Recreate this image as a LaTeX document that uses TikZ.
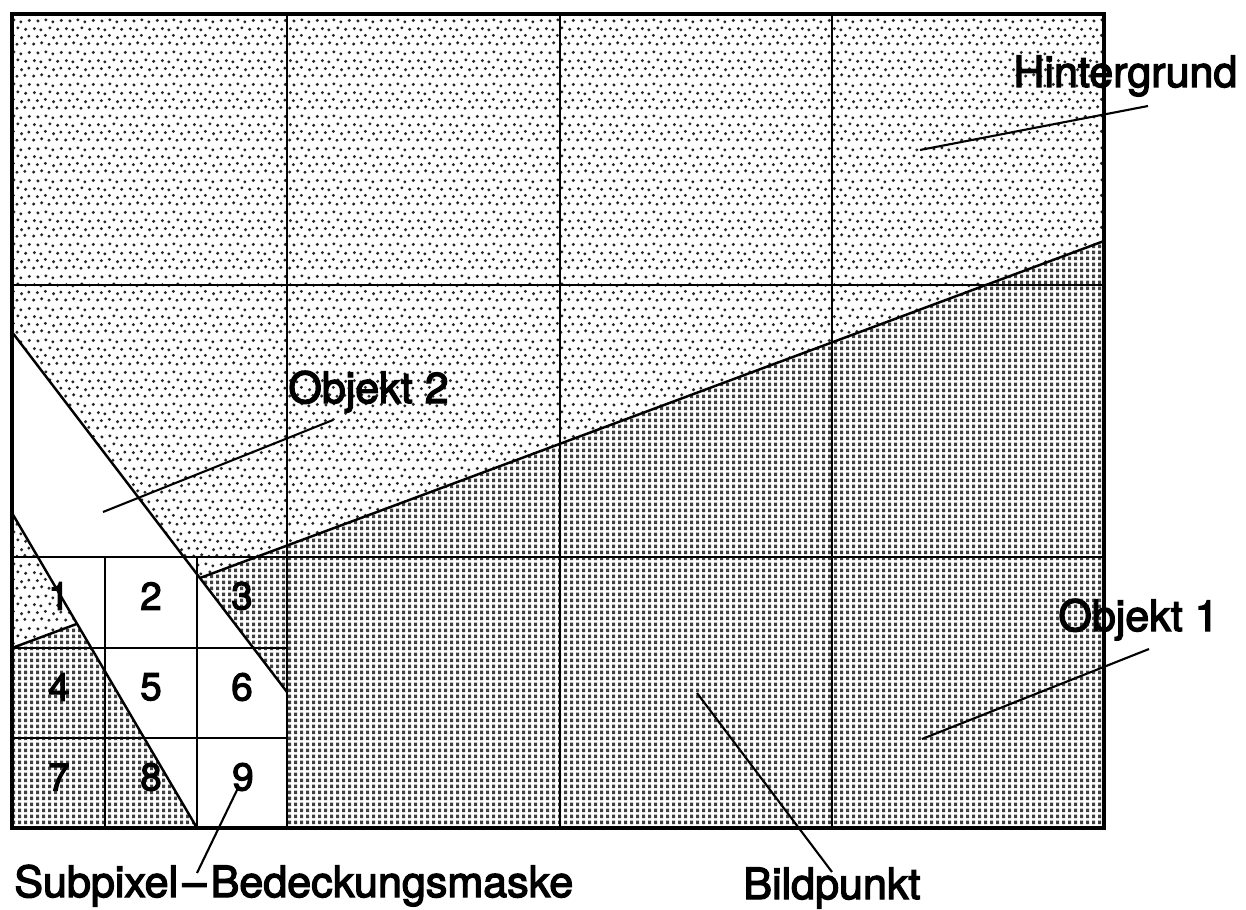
\documentclass[tikz,border=0pt]{standalone}
\usepackage{fontspec}
\setmainfont{TeX Gyre Heros}
\newfontfamily\labfont[FakeBold=3]{TeX Gyre Heros}
\usetikzlibrary{patterns}

% background: irregular sparse dots
\pgfdeclarepatternformonly{bgdots}{\pgfqpoint{0pt}{0pt}}{\pgfqpoint{18pt}{18pt}}{\pgfqpoint{18pt}{18pt}}{%
  \foreach \px/\py in {1.0/1.1, 5.6/1.8, 9.8/1.0, 14.3/1.5,
                       3.1/5.4, 7.7/6.1, 12.4/4.8, 16.6/5.7,
                       1.4/10.0, 5.1/9.3, 10.3/10.4, 14.8/9.6,
                       3.4/14.4, 8.0/15.0, 12.0/13.9, 16.9/14.7}{%
    \pgfpathcircle{\pgfpoint{\px pt}{\py pt}}{0.95pt}}%
  \pgfusepath{fill}%
}
% object 1: regular dense dots
\pgfdeclarepatternformonly{objdots}{\pgfqpoint{0pt}{0pt}}{\pgfqpoint{3.2pt}{3.2pt}}{\pgfqpoint{3.2pt}{3.2pt}}{%
  \pgfpathrectangle{\pgfqpoint{0.75pt}{0.6pt}}{\pgfqpoint{1.7pt}{2.0pt}}%
  \pgfusepath{fill}%
}

\begin{document}
\begin{tikzpicture}[x=0.02cm,y=-0.02cm,
  frame/.style={line width=1.8pt},
  gridline/.style={line width=1.4pt},
  edgeline/.style={line width=1.4pt},
  leader/.style={line width=1.2pt},
  lab/.style={inner sep=0pt,font=\labfont\fontsize{24.5}{28}\selectfont},
  num/.style={inner sep=0pt,font=\labfont\fontsize{22}{26}\selectfont}]
\useasboundingbox (0,0) rectangle (1246,909);

% key coordinates
\coordinate (TL) at (12,14);
\coordinate (BR) at (1104,828);
\coordinate (La) at (12,648);
\coordinate (Lb) at (1104,241);
\coordinate (Da) at (12,332);
\coordinate (Db) at (287,692);
\coordinate (Ea) at (12,513);
\coordinate (Eb) at (197,828);
\coordinate (P1) at (intersection of La--Lb and Ea--Eb);
\coordinate (P2) at (intersection of La--Lb and Da--Db);

% background
\fill[white] (TL) rectangle (BR);
\fill[pattern=bgdots, pattern color=black!85] (TL) rectangle (BR);
% object 1
\fill[white] (La) -- (Lb) -- (1104,828) -- (12,828) -- cycle;
\fill[pattern=objdots, pattern color=black!75] (La) -- (Lb) -- (1104,828) -- (12,828) -- cycle;
% object 2
\fill[white] (Da) -- (Db) -- (287,828) -- (Eb) -- (Ea) -- cycle;

% pixel grid
\draw[gridline] (287,14) -- (287,828);
\draw[gridline] (560,14) -- (560,828);
\draw[gridline] (832,14) -- (832,828);
\draw[gridline] (12,285) -- (1104,285);
\draw[gridline] (12,557) -- (1104,557);
% subpixel grid
\draw[gridline] (105,557) -- (105,828);
\draw[gridline] (197,557) -- (197,828);
\draw[gridline] (12,648) -- (287,648);
\draw[gridline] (12,738) -- (287,738);
\draw[frame] (TL) rectangle (BR);

% object edges
\draw[edgeline] (La) -- (P1);
\draw[edgeline] (P2) -- (Lb);
\draw[edgeline] (Da) -- (Db);
\draw[edgeline] (Ea) -- (Eb);

% subpixel numbers
\node[num] (n1) at (59,596) {1};
\node[num] (n2) at (151,596) {2};
\node[num] (n3) at (242,596) {3};
\node[num] (n4) at (59,687) {4};
\node[num] (n5) at (151,687) {5};
\node[num] (n6) at (242,687) {6};
\node[num] (n7) at (59,777) {7};
\node[num] (n8) at (151,777) {8};
\node[num] (n9) at (243,777) {9};

% labels
\node[lab,anchor=base west] (hint) at (1013,87) {Hintergrund};
\node[lab,anchor=base west] (obj2) at (288,403) {Objekt 2};
\node[lab,anchor=base west] (obj1) at (1058,631) {Objekt 1};
\node[lab,anchor=base west] (bild) at (743,899) {Bildpunkt};
\node[lab,anchor=base west] (subp) at (14,897) {Subpixel\hspace{0.1em}–\hspace{0.1em}Bedeckungsmaske};

% leaders
\coordinate (hA) at (920,150);  \coordinate (hB) at (1148,106);
\coordinate (oA) at (103,512);  \coordinate (oB) at (333,420);
\coordinate (qA) at (922,739);  \coordinate (qB) at (1149,649);
\coordinate (bA) at (697,693);  \coordinate (bB) at (832,872);
\coordinate (sA) at (238,788);  \coordinate (sB) at (197,873);
\draw[leader] (hA) -- (hB);
\draw[leader] (oA) -- (oB);
\draw[leader] (qA) -- (qB);
\draw[leader] (bA) -- (bB);
\draw[leader] (sA) -- (sB);
\end{tikzpicture}
\end{document}
